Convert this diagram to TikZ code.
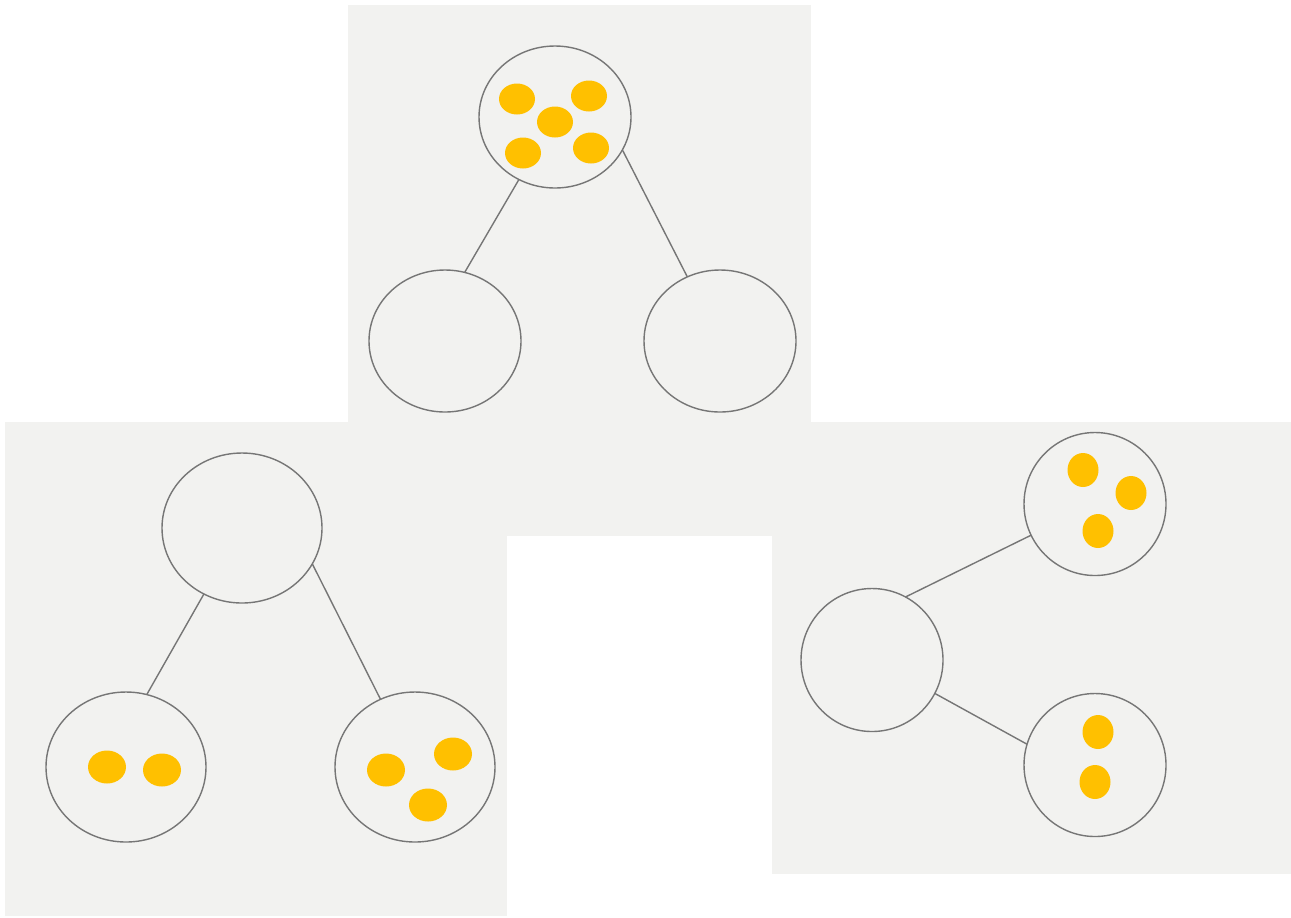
\documentclass[tikz,border=0pt]{standalone}
\usepackage{tikz}
\usetikzlibrary{shapes.geometric}
\definecolor{ppanel}{HTML}{F2F2F0}
\definecolor{pedge}{HTML}{767676}
\definecolor{pgrain}{HTML}{FFC000}

\begin{document}
\begin{tikzpicture}[x=0.2mm,y=-0.2mm,
    bag/.style={ellipse,draw=pedge,line width=0.8pt,inner sep=0pt,outer sep=0pt},
    link/.style={draw=pedge,line width=0.8pt},
    grain/.style={fill=pgrain}]
  \useasboundingbox (0,0) rectangle (1291,917);
  % panels
  \fill[ppanel] (348,5) rectangle (811,422);
  \fill[ppanel] (5,422) rectangle (1291,536);
  \fill[ppanel] (5,535) rectangle (507,916);
  \fill[ppanel] (772,535) rectangle (1291,874);
  % top tree
  \node[bag,minimum width=30.4mm,minimum height=28.4mm] (tRoot) at (555,117) {};
  \node[bag,minimum width=30.4mm,minimum height=28.4mm] (tLeft) at (445,341) {};
  \node[bag,minimum width=30.4mm,minimum height=28.4mm] (tRight) at (720,341) {};
  \draw[link] (tRoot.240) -- (tLeft.74);
  \draw[link] (tRoot.334) -- (tRight.117);
  \foreach \px/\py in {517/99,589/96,555/122,523/153,591/148}
    \fill[grain] (\px,\py) ellipse (18 and 15.5);
  % left tree
  \node[bag,minimum width=32mm,minimum height=30mm] (lRoot) at (242,528) {};
  \node[bag,minimum width=32mm,minimum height=30mm] (lLeft) at (126,767) {};
  \node[bag,minimum width=32mm,minimum height=30mm] (lRight) at (415,767) {};
  \draw[link] (lRoot.240) -- (lLeft.74);
  \draw[link] (lRoot.333) -- (lRight.117);
  \foreach \px/\py in {107/767,162/770,386/770,453/754,428/805}
    \fill[grain] (\px,\py) ellipse (19 and 16.5);
  % right tree
  \node[bag,minimum width=28.4mm,minimum height=28.6mm] (rRoot) at (872,660) {};
  \node[bag,minimum width=28.4mm,minimum height=28.6mm] (rUp) at (1095,504) {};
  \node[bag,minimum width=28.4mm,minimum height=28.6mm] (rDown) at (1095,765) {};
  \draw[link] (rRoot.62) -- (rUp.206);
  \draw[link] (rRoot.332) -- (rDown.163);
  \foreach \px/\py in {1083/470,1131/493,1098/531,1098/732,1095/782}
    \fill[grain] (\px,\py) ellipse (15.5 and 17);
\end{tikzpicture}
\end{document}
